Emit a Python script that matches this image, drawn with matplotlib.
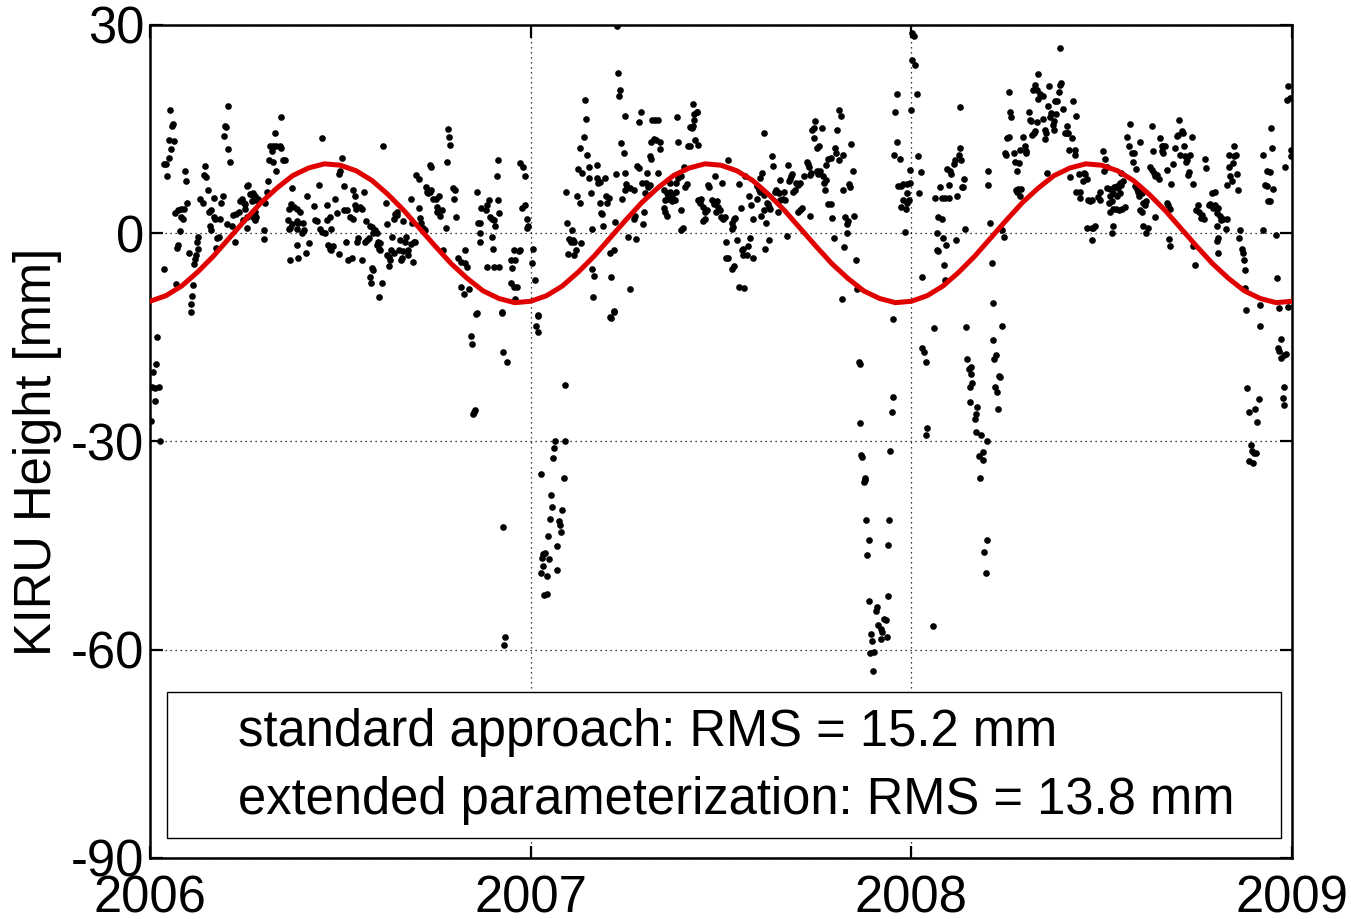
import numpy as np
import matplotlib.pyplot as plt
from matplotlib.patches import Rectangle

plt.rcParams['font.family'] = ['Liberation Sans', 'DejaVu Sans']
plt.rcParams['axes.unicode_minus'] = False

# daily height residuals, day counted from 2006-01-01, height in mm
day_2006 = [19, 21, 22, 18, 23, 20, 18, 13, 15, 16, 13, 25,
            24, 27, 30, 33, 36, 30, 32, 29, 27, 26, 34, 35,
            37, 46, 45, 46, 44, 43, 42, 41, 40, 39, 39, 48,
            51, 53, 54, 56, 52, 57, 59, 61, 58, 59, 62, 61,
            64, 66, 63, 68, 70, 67, 75, 72, 73, 71, 75, 77,
            74, 79, 82, 80, 83, 85, 86, 88, 90, 91, 93, 94,
            96, 98, 99, 98, 101, 102, 104, 91, 93, 89, 93, 99,
            101, 102, 101, 109, 109, 110, 112, 113, 115, 118, 121, 125,
            117, 120, 114, 118, 121, 126, 128, 130, 126, 133, 136, 135,
            138, 141, 144, 132, 134, 133, 136, 141, 142, 147, 148, 146,
            141, 134, 142, 141, 150, 153, 151, 157, 158, 160, 162, 165,
            163, 165, 168, 170, 170, 173, 174, 171, 173, 174, 176, 181,
            178, 179, 181, 182, 184, 186, 186,
            189, 192, 195, 188, 190, 194, 195, 197, 197, 198, 202, 203,
            205, 207, 203, 200, 199, 206, 208, 210, 211, 213, 214, 216,
            218, 218, 219, 221, 221, 220, 213, 214, 211, 212, 223, 220,
            224, 226, 227, 227, 229, 229, 230, 231, 232, 234, 234, 235,
            237, 237, 239, 240, 241, 242, 243, 243, 245, 246, 248, 248,
            250, 250, 251, 252, 253, 254, 255, 258, 258, 259, 260, 262,
            264, 265, 266, 267, 269, 270, 269, 270, 272, 274, 275, 275,
            277, 278, 280, 281, 284, 285, 286, 287, 288, 291, 292, 293,
            294, 296, 298, 298, 301, 302, 302, 304, 306, 314, 315, 317,
            318, 317, 317, 322, 323, 325, 326, 328, 330, 328, 329, 331,
            333, 334, 334, 335, 323, 330, 335, 346, 347, 349, 350, 354,
            355, 346, 349, 352, 350, 355, 358, 360, 357, 360, 362, 363,
            362, 314, 338,
            7, 6, 3, 2, 5, 9, 5, 1, 10, 313, 308, 309,
            338, 339, 343, 311, 312, 310, 339, 341, 340]
mm_2006 = [17.7, 15.5, 15.8, 13.5, 13.3, 12.2, 10.9, 10.0, 10.0, 8.2, -5.1, -7.3,
           2.9, 3.4, 3.5, 3.5, 4.4, 2.4, 2.0, 0.3, -1.7, -2.1, 9.0, 7.5,
           -2.8, -0.5, -1.3, -2.3, -3.2, -3.7, -4.4, -7.5, -9.1, -10.2, -11.4, 4.9,
           4.4, 9.7, 8.1, 6.3, 8.4, 3.1, 3.4, 2.4, 1.0, 0.5, 2.0, 5.1,
           -0.7, -0.5, -2.1, 4.4, 5.4, 2.1, 18.4, 15.5, 15.3, 14.0, 12.1, 10.2,
           1.3, 1.1, -1.2, 2.6, 2.8, 3.0, 4.6, 4.9, 4.3, 4.2, 6.8, 6.9,
           5.6, 5.5, 5.8, 4.7, 5.3, 4.8, 4.9, 3.5, 2.4, 1.9, 0.7, 2.4,
           1.9, 2.3, 3.0, 0.4, -0.9, 4.4, 5.9, 7.5, 12.5, 12.6, 12.6, 12.5,
           11.8, 14.5, 10.5, 10.2, 9.0, 12.3, 10.6, 10.6, 16.7, 3.5, 6.5, 4.2,
           3.8, 3.5, 3.1, 1.9, 0.7, 0.6, 1.4, 1.7, 1.5, 1.5, 0.5, 0.1,
           0.6, -3.8, -3.5, -1.7, -2.9, -1.4, 5.4, 3.9, 1.9, 1.7, 6.9, 13.7,
           0.6, 0.2, 0.1, 4.1, 1.9, 2.4, 0.6, -1.7, -2.2, -2.4, -1.9, -3.0,
           4.9, 2.9, 8.6, 9.0, 10.8, 6.8, 3.4,
           3.3, 2.4, 2.0, -1.2, -3.8, -3.6, 6.3, 5.4, 4.1, 3.5, 3.8, 3.5,
           5.9, 1.7, -3.8, -0.7, -1.2, -1.2, -1.0, -0.7, 1.0, 0.9, 0.0, 0.5,
           0.1, -1.7, -1.2, -1.4, -2.4, -2.2, -5.0, -5.3, -6.3, -7.1, -7.1, -9.2,
           12.5, 4.3, 1.3, -3.1, -3.4, -4.7, -3.8, -2.4, -0.5, -2.9, 2.0, 2.8,
           3.1, 2.6, -2.4, -1.0, -3.8, -3.5, 1.7, -2.6, -1.3, -0.5, -2.4, -3.1,
           4.9, -1.5, 1.5, -4.2, -1.2, -1.2, 8.4, 7.8, 3.6, 2.2, 1.5, 0.7,
           0.5, 6.7, 6.0, 5.8, 6.0, 6.3, 9.9, 9.6, 5.0, 5.0, 3.8, 3.0,
           5.3, 2.5, 3.3, -2.4, 0.7, 10.3, 15.0, 13.9, 12.7, 6.5, 4.9, 6.3,
           2.3, -3.5, -4.1, -7.7, -8.7, -2.4, -4.3, -4.9, -8.1, 6.0, 1.5, 1.5,
           3.6, 0.0, -1.2, 3.4, 4.1, 4.8, 2.4, 2.0, 1.9, -0.5, -2.2, 1.0,
           8.3, 10.6, 4.8, 2.9, -4.8, -4.8, -4.8, -3.8, -5.0, -2.4, -3.8, -2.5,
           -2.4, -7.2, -7.7, -7.7, -9.5, 10.1, 9.6, 8.2, 3.6, 4.1, 2.0, 1.1,
           0.7, -11.5, -11.4,
           -15.0, -18.9, -20.0, -22.2, -22.3, -22.2, -24.2, -27.1, -30.0, -11.7, -14.8, -15.9,
           -11.5, -17.1, -18.5, -25.8, -25.5, -26.1, -42.3, -58.1, -59.3]

day_2007 = [368, 367, 369, 372, 448, 449, 451, 450, 417, 418, 416, 413,
            419, 411, 415, 421, 421, 429, 429, 430, 432, 437, 399, 410,
            413, 423, 432, 433, 434, 438, 440, 439, 424, 435, 446, 400,
            405, 402, 406, 404, 407, 414, 409, 401, 407, 424, 426, 425,
            442, 445, 441, 441, 445, 461, 456, 452, 455, 447, 456, 453,
            457, 458, 456, 461, 464, 465, 464, 459, 466, 473, 474, 476,
            472, 477, 478, 469, 471, 467, 469, 482, 485, 487, 481, 484,
            486, 489, 480, 481, 487, 489, 475, 480, 493, 496, 494, 497,
            499, 501, 498, 502, 501, 504, 505, 499, 505, 507, 493, 494,
            496, 510, 513, 515, 510, 511, 507, 506, 516, 518, 523, 526,
            518, 520, 521, 522, 525, 522, 521, 525, 512, 510, 526, 528,
            529, 531, 533, 531, 535, 536, 539, 541, 544, 543, 545, 547,
            549, 542, 548, 550, 552, 553, 553, 555, 533, 534,
            372, 370, 372, 445, 442, 398, 389, 398, 388, 387, 375, 397,
            385, 386, 395, 384, 392, 393, 394, 382, 391, 377, 379, 376,
            383, 377, 375, 381, 391, 378, 381,
            680, 681, 681, 713, 712, 682, 683, 686, 685, 686, 710, 687,
            709, 690, 708, 688, 708, 690, 698, 697, 704, 706, 699, 701,
            702, 692, 707, 701, 693, 691, 695, 694,
            565, 567, 561, 560, 558, 559, 558, 563, 555, 560, 558, 565,
            570, 568, 569, 574, 573, 576, 579, 569, 571, 575, 577, 579,
            582, 582, 584, 585, 585, 587, 586, 589, 589, 591, 590, 592,
            593, 594, 595, 594, 597, 598, 600, 601, 602, 603, 604, 605,
            605, 607, 608, 609, 611, 612, 613, 614, 615, 616, 617, 619,
            620, 622, 624, 624, 622, 626, 628, 630, 631, 632, 633, 634,
            633, 635, 637, 638, 637, 640, 642, 641, 640, 643, 645, 646,
            647, 648, 649, 649, 651, 653, 651, 653, 654, 656, 657, 659,
            658, 661, 663, 661, 665, 665, 666, 667, 669, 669, 670, 671,
            672, 673, 675, 676, 677, 664, 678, 589, 713, 715, 717, 717,
            714, 720, 718, 721, 723, 726, 729, 726, 723, 721, 726, 725,
            724, 729, 728]
mm_2007 = [-2.2, -4.3, -6.7, -11.8, 29.8, 23.1, 20.7, 19.8, 19.2, 16.4, 13.8, 12.3,
           11.2, 9.2, 8.7, 9.5, 7.9, 9.9, 7.9, 7.3, 7.4, 7.9, 5.9, 5.4,
           4.4, 5.8, 4.3, 2.9, 2.8, 5.3, 5.1, 4.3, 0.6, 1.0, 1.6, 1.5,
           0.5, -0.8, -1.0, -1.3, -1.3, -1.4, -2.4, -3.0, -3.1, -5.2, -6.2, -9.2,
           -6.3, -11.2, -12.0, -2.8, -2.4, -8.0, 16.9, 13.0, 11.6, 8.5, 8.7, 5.0,
           7.1, 6.7, 6.3, 6.5, 6.3, 2.5, 2.0, -0.5, -0.9, 1.4, 3.0, 7.2,
           7.2, 8.7, 6.6, 16.0, 17.4, 9.7, 9.4, 16.3, 16.3, 16.3, 13.2, 13.6,
           13.5, 13.2, 11.1, 10.7, 8.7, 12.2, 5.8, 7.0, 6.3, 5.8, 4.8, 5.4,
           5.9, 5.5, 4.9, 5.0, 4.6, 4.8, 6.0, 7.3, 7.3, 8.0, 3.6, 3.1,
           2.5, 3.4, 6.7, 7.1, 0.4, 0.7, 13.1, 16.7, 12.5, 12.6, 13.5, 12.7,
           15.3, 15.1, 15.5, 16.3, 17.4, 17.2, 18.6, 17.5, 9.6, 8.2, 4.8, 4.4,
           4.9, 3.8, 2.0, 1.7, 7.0, 6.7, 4.8, 4.2, 4.6, 3.1, 3.8, 3.4,
           7.3, 8.2, 2.4, 2.0, 2.4, -1.3, -3.5, 10.6, 3.0, 3.4,
           -11.9, -13.4, -14.2, -11.3, -12.2, -21.9, -29.9, -30.0, -31.0, -32.4, -34.7, -35.3,
           -37.7, -39.4, -39.9, -41.2, -41.5, -42.0, -43.0, -43.6, -45.0, -46.2, -46.0, -46.8,
           -46.9, -47.9, -48.9, -49.4, -48.5, -52.1, -51.9,
           -18.6, -18.9, -27.4, -23.6, -25.7, -32.0, -32.2, -35.3, -35.9, -35.5, -31.4, -41.3,
           -41.3, -44.2, -44.9, -46.4, -52.2, -53.0, -53.8, -54.4, -55.6, -55.7, -56.5, -57.0,
           -57.5, -57.7, -58.1, -58.5, -58.8, -60.5, -60.3, -63.0,
           7.1, 3.7, 2.2, 2.0, 1.5, 0.9, 0.6, -1.0, -3.6, -4.7, -5.2, -7.7,
           -7.9, -2.4, -2.3, -1.9, -3.1, -0.7, -3.5, -3.1, 8.3, 5.3, 4.1, 2.0,
           5.0, 6.8, 6.3, 7.9, 6.0, 8.7, 2.5, 3.4, 5.5, 1.5, -2.2, 4.4,
           4.2, 3.8, 3.5, -1.0, 11.1, 9.7, 6.0, 6.3, 5.9, 3.0, 5.8, 7.7,
           4.8, 5.0, 6.0, 4.8, -0.4, 9.8, 7.5, 7.8, 8.3, 8.5, 5.9, 6.3,
           7.2, 7.0, 7.3, 3.4, 3.1, 3.6, 8.3, 10.3, 10.0, 9.6, 8.4, 8.7,
           2.5, 14.9, 15.1, 16.1, 13.7, 12.3, 12.5, 8.6, 9.0, 8.9, 15.1, 8.2,
           7.3, 6.3, 9.9, 7.6, 4.2, 4.2, 10.7, 10.8, 2.2, -0.7, 12.3, 14.9,
           11.6, 17.8, 16.9, 10.6, 11.3, 6.2, -2.0, 2.4, 1.3, 0.0, 1.7, 7.1,
           6.7, 12.9, 9.0, 2.5, -3.8, -9.5, -8.1, 14.5, -12.3, 17.4, 20.0, 13.1,
           11.3, 10.7, 6.8, 6.8, 7.1, 7.1, 7.2, 5.8, 4.8, 3.8, 4.4, 3.5,
           0.2, 9.1, 4.8]

day_2008 = [730, 731, 734, 731, 733, 736, 737, 738,
            740, 741, 753, 758, 760, 763, 767, 767, 765, 768, 769, 771,
            772, 776, 777, 778, 777, 774, 779, 780, 781, 782, 756, 760,
            755, 761, 764, 755, 756, 773, 762, 763, 804, 804, 806, 808,
            809, 818, 819, 824, 825, 826, 822, 820, 821, 824, 829, 830,
            832, 834, 835, 831, 833, 832, 836, 835, 838, 840, 841, 841,
            843, 844, 845, 846, 848, 849, 851, 852, 847, 849, 851, 854,
            857, 852, 857, 859, 860, 859, 861, 863, 864, 862, 865, 866,
            867, 868, 870, 872, 873, 874, 873, 867, 869, 876, 878, 880,
            881, 880, 882, 885, 886, 888, 889, 888, 883, 891, 889, 892,
            892, 895, 896, 897, 899, 900, 902, 904, 899, 904, 907, 905,
            904, 910, 912, 912, 914, 916, 915, 920, 921, 918, 918,
            921, 921, 923, 924, 925, 928, 929, 931, 932, 934, 931, 932,
            928, 924, 927, 930, 933, 936, 924, 923, 937, 939, 940, 942,
            944, 943, 946, 945, 947, 948, 949, 950, 952, 953, 952, 950,
            955, 956, 953, 956, 958, 960, 961, 962, 961, 963, 964, 964,
            966, 968, 969, 971, 971, 972, 972, 974, 976, 976, 977, 978,
            979, 979, 980, 982, 984, 985, 986, 987, 988, 990, 991, 992,
            993, 994, 995, 997, 996, 998, 1000, 1001, 1001, 1003, 1004, 1006,
            1007, 1008, 1009, 1011, 1012, 1013, 1016, 1017, 1019, 1020, 1022, 1022,
            1024, 1025, 1024, 1025, 1024, 1025, 1027, 1028, 1030, 1032, 1033, 1033,
            1035, 1035, 1036, 1038, 1039, 1040, 1040, 1042, 1043, 1044, 1046, 1045,
            1048, 1049, 1050, 1051, 1051, 1052, 1065, 1068, 1068, 1070, 1072, 1072,
            1073, 1075, 1075, 1076, 1077, 1078, 1080, 1081, 1089, 1091, 1092, 1094,
            1095, 1095, 1092, 1083,
            752, 741, 743, 745, 746, 745, 751, 783, 784, 786, 788, 788,
            789, 787, 818, 809, 810, 812, 816, 815, 811, 813, 814, 787,
            794, 793, 792, 793, 797, 803, 795, 799, 799, 796, 803, 800,
            802, 1065, 1053, 1064, 1060, 1055, 1062, 1056, 1057, 1061, 1059, 1055,
            1058, 1085, 1082, 1083, 1085, 1088, 1090, 1088, 1087, 1088]
mm_2008 = [17.8, 25.0, 24.3, 28.8, 28.4, 20.0, 11.1, 5.8,
           8.8, -6.3, 5.1, 6.7, 5.1, 5.1, 5.1, 7.0, 9.2, 8.9, 8.6, 10.0,
           10.6, 11.3, 12.3, 10.5, 18.2, 5.4, 6.6, 6.6, 7.8, 0.6, 2.4, 2.0,
           0.0, -0.7, -1.7, -2.4, -2.6, -1.0, -4.6, -6.7, 8.9, 6.9, 1.5, -4.3,
           -10.1, 0.5, -0.6, 20.4, 17.5, 16.8, 13.7, 11.5, 11.2, 13.9, 11.6, 10.2,
           9.0, 10.1, 12.0, 6.3, 6.4, 5.9, 6.4, 5.4, 13.8, 12.5, 11.9, 11.6,
           17.4, 16.3, 16.1, 14.2, 14.5, 14.7, 16.0, 19.3, 20.7, 21.3, 20.7, 20.1,
           19.8, 23.0, 16.4, 14.9, 14.5, 13.6, 8.7, 21.2, 16.7, 18.4, 17.3, 15.6,
           14.9, 19.0, 19.0, 20.3, 21.3, 21.6, 26.7, 16.1, 17.2, 17.9, 14.5, 14.5,
           14.5, 15.5, 12.0, 13.7, 19.0, 12.0, 16.9, 11.2, 8.1, 8.6, 6.0, 6.0,
           5.1, 7.5, 8.7, 8.6, 7.8, 4.8, 4.6, 4.8, 0.7, 0.7, 1.1, 0.7,
           -1.0, 5.2, 6.0, 4.8, 11.8, 10.7, 8.9, 4.3, 3.1, 6.5, 9.6,
           6.4, 5.3, 4.6, 5.8, 6.7, 6.8, 6.5, 7.2, 7.0, 7.5, 5.8, 8.7,
           5.4, 3.5, 3.5, 3.4, 3.5, 3.8, 1.0, 0.0, 13.9, 12.6, 15.8, 11.6,
           11.6, 10.2, 9.2, 6.8, 6.4, 5.9, 5.4, 13.2, 5.8, 4.4, 3.1, 3.3,
           4.1, 4.6, 1.1, 0.0, 0.7, 9.6, 9.1, 11.9, 15.4, 8.7, 8.2, 2.4,
           8.4, 7.8, 13.7, 11.9, 12.5, 12.6, 11.6, 12.6, 9.1, 4.3, 4.1, -0.9,
           -1.9, 3.5, 7.1, 10.0, 12.3, 14.0, 14.2, 16.3, 11.2, 14.8, 14.4, 12.6,
           11.1, 10.3, 10.6, 8.8, 8.4, 11.3, 13.9, 7.1, -1.8, -4.6, 3.4, 4.1,
           3.1, 2.2, 2.6, 2.0, 10.7, 9.4, 4.1, 4.2, 5.8, 3.6, 6.0, 4.1,
           2.9, 3.6, 1.1, -0.7, -1.1, -2.9, 2.5, 1.9, 2.0, 0.6, 2.0, 7.0,
           9.6, 11.2, 8.3, 7.5, 10.1, 12.6, 11.1, 11.2, 8.6, 6.2, 0.5, -0.7,
           -2.3, -2.9, -3.8, -5.3, -7.9, -11.1, -10.3, 0.5, 11.2, 7.0, 6.8, 9.0,
           4.6, 4.6, 8.8, 15.1, 12.3, 6.4, -0.2, -6.4, 9.6, 19.2, 21.2, 19.5,
           12.0, 11.1, -10.6, -10.8,
           -13.7, -16.6, -17.1, -18.5, -28.1, -29.0, -56.6, -13.5, -18.1, -19.5, -19.3, -20.3,
           -21.6, -22.1, -13.3, -15.4, -18.1, -17.5, -20.7, -20.5, -22.2, -22.9, -25.3, -24.3,
           -25.0, -26.0, -26.8, -28.6, -29.1, -29.9, -32.1, -31.5, -32.6, -35.3, -44.2, -45.9,
           -48.9, -13.3, -22.3, -23.9, -25.3, -25.7, -27.2, -30.5, -31.3, -31.6, -31.7, -32.8,
           -33.1, -15.2, -16.5, -17.0, -18.0, -17.6, -17.4, -22.2, -23.8, -24.7]

# annual signal read at half-month steps over one year
annual_cycle = [-9.8, -9.0, -7.6, -5.6, -3.3, -0.7, 1.9, 4.4, 6.5, 8.3, 9.4, 10.0,
                9.8, 9.0, 7.6, 5.6, 3.3, 0.7, -1.9, -4.4, -6.5, -8.3, -9.4, -10.0]

legend_lines = ["standard approach: RMS = 15.2 mm",
                "extended parameterization: RMS = 13.8 mm"]

days = np.array(day_2006 + day_2007 + day_2008, dtype=float)
height = np.array(mm_2006 + mm_2007 + mm_2008)
t = 2006 + days / 365.25

curve = np.array(annual_cycle * 3 + annual_cycle[:1])
t_curve = 2006 + np.arange(len(curve)) / 24.0

fig = plt.figure(figsize=(13.51, 9.19), dpi=100)
ax = fig.add_axes([0.111, 0.0664, 0.8453, 0.9064])

ax.plot(t, height, 'o', color='black', ms=4.8, mew=0, zorder=3)
ax.plot(t_curve, curve, '-', color='#e00000', lw=3.6, zorder=4)

ax.set_xlim(2006, 2009)
ax.set_ylim(-90, 30)
ax.set_xticks([2006, 2007, 2008, 2009])
ax.set_yticks([-90, -60, -30, 0, 30])
ax.set_xticklabels(['2006', '2007', '2008', '2009'])
ax.grid(True, color='black', linestyle=(0, (1, 3)), linewidth=0.9)
ax.set_axisbelow(True)

ax.tick_params(axis='both', direction='in', length=9, width=1.6,
               labelsize=36.5, top=True, right=True)
ax.tick_params(axis='x', pad=12)
ax.tick_params(axis='y', pad=4)
for s in ax.spines.values():
    s.set_linewidth(1.8)

ax.set_ylabel('KIRU Height [mm]', fontsize=36.5)
ax.yaxis.set_label_coords(-0.077, 0.487)

# legend box with text only
ax.add_patch(Rectangle((0.0149, 0.024), 0.9755, 0.175, transform=ax.transAxes,
                       facecolor='white', edgecolor='black', lw=1.0, zorder=5))
ax.text(0.077, 0.151, legend_lines[0], transform=ax.transAxes, fontsize=36.5,
        va='center', ha='left', zorder=6)
ax.text(0.077, 0.0696, legend_lines[1], transform=ax.transAxes, fontsize=36.5,
        va='center', ha='left', zorder=6)

fig.savefig('out.png', dpi=100, facecolor='white')
